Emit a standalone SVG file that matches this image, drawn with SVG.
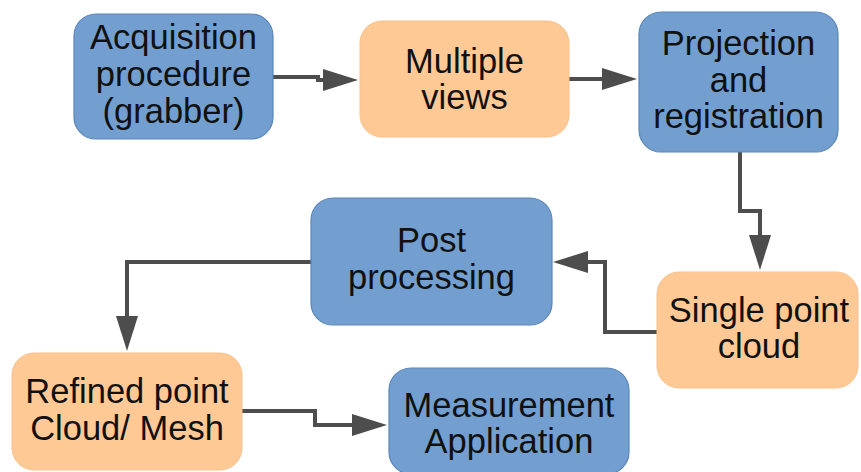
<svg xmlns="http://www.w3.org/2000/svg" width="861" height="472" viewBox="0 0 861 472">
<defs>
<style>
.blue{fill:#729fcf;stroke:#5a86ba;stroke-width:1.2}
.orange{fill:#ffc995;stroke:#fbc089;stroke-width:1}
text{font-family:"Liberation Sans",Arial,sans-serif;font-size:34.5px;fill:#111;text-anchor:middle}
.conn{fill:none;stroke:#4d4d4d;stroke-width:4;stroke-linejoin:miter}
</style>
<marker id="ah" markerUnits="userSpaceOnUse" markerWidth="36" markerHeight="24" refX="0" refY="12" orient="auto">
<path d="M0,1 L35,12 L0,23 Z" fill="#4d4d4d"/>
</marker>
</defs>
<rect width="861" height="472" fill="#ffffff"/>
<g id="connectors">
<path class="conn" marker-end="url(#ah)" d="M273,77 H318 V80 H323"/>
<path class="conn" marker-end="url(#ah)" d="M569,79 H602"/>
<path class="conn" marker-end="url(#ah)" d="M740,152 V211 H760 V235"/>
<path class="conn" marker-end="url(#ah)" d="M657,332 H605 V262 H588"/>
<path class="conn" marker-end="url(#ah)" d="M311,262 H127 V316"/>
<path class="conn" marker-end="url(#ah)" d="M242,411 H315 V425 H352"/>
</g>
<g id="acquisition">
<rect class="blue" x="74" y="14" width="199" height="125" rx="22"/>
<text x="173.5" y="49">Acquisition</text>
<text x="173.5" y="86">procedure</text>
<text x="173.5" y="123">(grabber)</text>
</g>
<g id="multiple-views">
<rect class="orange" x="360" y="21" width="209" height="116" rx="22"/>
<text x="464.5" y="73">Multiple</text>
<text x="464.5" y="109">views</text>
</g>
<g id="projection">
<rect class="blue" x="639" y="12" width="199" height="140" rx="22"/>
<text x="738.5" y="55">Projection</text>
<text x="738.5" y="92">and</text>
<text x="738.5" y="128">registration</text>
</g>
<g id="single-point-cloud">
<rect class="orange" x="657" y="272" width="201" height="116" rx="22"/>
<text x="759" y="322">Single point</text>
<text x="759" y="358">cloud</text>
</g>
<g id="post-processing">
<rect class="blue" x="311" y="198" width="241" height="127" rx="22"/>
<text x="431.5" y="252">Post</text>
<text x="431.5" y="289">processing</text>
</g>
<g id="refined">
<rect class="orange" x="12" y="353" width="230" height="117" rx="22"/>
<text x="127" y="403">Refined point</text>
<text x="127" y="440">Cloud/ Mesh</text>
</g>
<g id="measurement">
<rect class="blue" x="389" y="368" width="240" height="106" rx="22"/>
<text x="509" y="417">Measurement</text>
<text x="509" y="453">Application</text>
</g>
</svg>
